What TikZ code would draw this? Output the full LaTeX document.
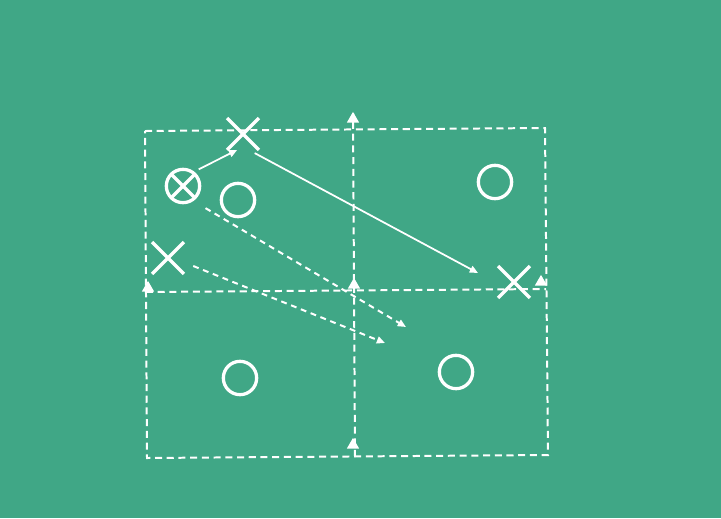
\documentclass[tikz,border=0pt]{standalone}
\usetikzlibrary{arrows.meta,shapes.misc,shapes.geometric}
\definecolor{pitch}{RGB}{64,167,134}
\begin{document}
\begin{tikzpicture}[x=0.03cm, y=-0.03cm,
            lane/.style={white, line width=1.7pt, dash pattern=on 6pt off 4pt},
            cone/.style={circle, draw=white, line width=2.8pt, minimum size=1.0cm, inner sep=0pt},
            cross/.style={cross out, draw=white, line width=3pt, minimum size=0.85cm, inner sep=0pt},
            ball/.style={cone, path picture={
                \draw[white, line width=2.8pt] (path picture bounding box.north west) -- (path picture bounding box.south east);
                \draw[white, line width=2.8pt] (path picture bounding box.north east) -- (path picture bounding box.south west);}},
            flag/.style={isosceles triangle, isosceles triangle apex angle=60, shape border rotate=90, fill=white, inner sep=0pt, minimum size=0.32cm},
            run/.style={white, line width=1.5pt, -{Triangle[length=7pt, width=6pt]}},
            dribble/.style={white, line width=1.7pt, dash pattern=on 5pt off 4pt, -{Triangle[length=7pt, width=6pt]}},
        ]
            % field
            \fill[pitch] (0,0) rectangle (721,518);
            \useasboundingbox (0,0) rectangle (721,518);

            % grid corners
            \coordinate (nw) at (145,131);
            \coordinate (ne) at (545,128);
            \coordinate (se) at (548,455);
            \coordinate (sw) at (147,458);
            \coordinate (wm) at (146,292);
            \coordinate (em) at (546,289);
            \coordinate (top) at (353,113);
            \coordinate (bot) at (355,457);

            \draw[lane] (nw) -- (ne) -- (se) -- (sw) -- cycle;
            \draw[lane] (wm) -- (em);
            \draw[lane] (bot) -- (top);

            % markers
            \node[flag] (f1) at (353,119) {};
            \node[flag] (f2) at (354,285) {};
            \node[flag] (f3) at (353,445) {};
            \node[flag] (f4) at (148,288) {};
            \node[flag] (f5) at (541,282) {};

            % players
            \node[ball] (o1) at (183,186) {};
            \node[cone] (o2) at (238,200) {};
            \node[cone] (o3) at (495,182) {};
            \node[cone] (o4) at (240,378) {};
            \node[cone] (o5) at (456,372) {};
            \node[cross] (x1) at (243,134) {};
            \node[cross] (x2) at (168,258) {};
            \node[cross] (x3) at (514,282) {};

            % runs
            \coordinate (r2) at (478,273);
            \coordinate (d1) at (406,327);
            \coordinate (d2) at (385,343);
            \draw[run, shorten <=0.15cm] (o1.52) -- (x1.-110);
            \draw[run, shorten <=0.2cm] (x1.-70) -- (r2);
            \draw[dribble, shorten <=0.42cm] (o1.-55) -- (d1);
            \draw[dribble, shorten <=0.3cm] (x2.-15) -- (d2);
        \end{tikzpicture}
\end{document}
